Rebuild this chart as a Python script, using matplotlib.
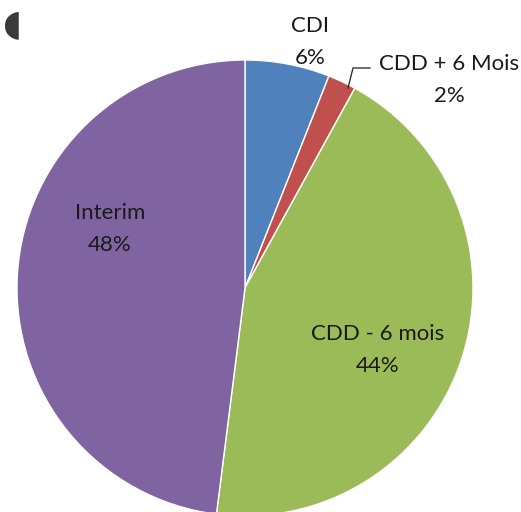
import matplotlib
matplotlib.use("Agg")
import matplotlib.pyplot as plt

# data
labels = ["CDI", "CDD + 6 Mois", "CDD - 6 mois", "Interim"]
shares = [6, 2, 44, 48]
colors = ["#4F81BD", "#C0504D", "#9BBB59", "#8064A2"]

plt.rcParams['font.family'] = ['Lato', 'DejaVu Sans']

W, H = 521, 512
fig = plt.figure(figsize=(W / 100, H / 100), dpi=100)
ax = fig.add_axes([0, 0, 1, 1])

# pie centre and radius in pixels
cx, cy, r = 245, 288, 228


def px(x, y):
    return (x - cx) / r, (cy - y) / r


ax.pie(shares, colors=colors, startangle=90, counterclock=False,
       radius=1, center=(0, 0),
       wedgeprops=dict(linewidth=1, edgecolor="white"))

ax.set_xlim(-cx / r, (W - cx) / r)
ax.set_ylim(-(H - cy) / r, cy / r)
ax.set_aspect("equal")
ax.axis("off")

# label block centres (pixels)
label_pos = [(310, 42), (449, 80), (378, 350), (110, 229)]
for lab, val, (x, y) in zip(labels, shares, label_pos):
    ax.text(*px(x, y), f"{lab}\n{val}%", ha="center", va="center",
            fontsize=16, color="#1a1a1a", linespacing=1.7)

# leader line for the small slice
p0, p1, p2 = px(348, 88), px(353, 68), px(370, 68)
ax.plot([p0[0], p1[0], p2[0]], [p0[1], p1[1], p2[1]], color="#333333", lw=1)

# stray mark at top left
ax.text(*px(12, 24), "\u25d6", ha="center", va="center", fontsize=26,
        color="#3a3a3a", family="DejaVu Sans")

fig.savefig("out.png", dpi=100)
